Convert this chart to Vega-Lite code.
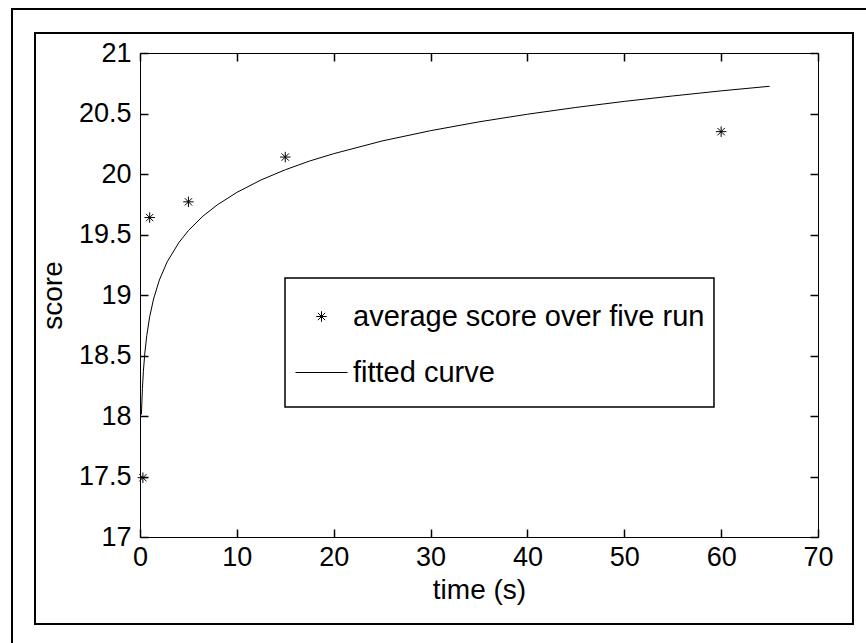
{
  "$schema": "https://vega.github.io/schema/vega-lite/v6.json",
  "width": 678,
  "height": 484,
  "autosize": {"type": "none"},
  "padding": {"left": 140, "top": 53, "right": 48, "bottom": 106},
  "background": "white",
  "datasets": {
    "points": [
      {"time": 0.3, "score": 17.49, "series": "average score over five run"},
      {"time": 1, "score": 19.64, "series": "average score over five run"},
      {"time": 5, "score": 19.77, "series": "average score over five run"},
      {"time": 15, "score": 20.14, "series": "average score over five run"},
      {"time": 60, "score": 20.35, "series": "average score over five run"}
    ],
    "curve": [
      {"time": 0.15, "score": 18.013},
      {"time": 0.17, "score": 18.065},
      {"time": 0.25, "score": 18.227},
      {"time": 0.35, "score": 18.369},
      {"time": 0.5, "score": 18.521},
      {"time": 0.7, "score": 18.665},
      {"time": 1, "score": 18.82},
      {"time": 1.4, "score": 18.967},
      {"time": 2, "score": 19.124},
      {"time": 2.8, "score": 19.273},
      {"time": 4, "score": 19.432},
      {"time": 5, "score": 19.533},
      {"time": 6.5, "score": 19.652},
      {"time": 8, "score": 19.746},
      {"time": 10, "score": 19.848},
      {"time": 12.5, "score": 19.951},
      {"time": 15, "score": 20.035},
      {"time": 17.5, "score": 20.107},
      {"time": 20, "score": 20.168},
      {"time": 25, "score": 20.273},
      {"time": 30, "score": 20.358},
      {"time": 35, "score": 20.431},
      {"time": 40, "score": 20.494},
      {"time": 45, "score": 20.55},
      {"time": 50, "score": 20.6},
      {"time": 55, "score": 20.645},
      {"time": 60, "score": 20.687},
      {"time": 65, "score": 20.725}
    ],
    "one": [{}]
  },
  "layer": [
    {
      "data": {"name": "one"},
      "mark": {"type": "rect", "fill": null, "stroke": "black", "strokeWidth": 2},
      "encoding": {
        "x": {"datum": -13.215, "type": "quantitative", "scale": {"domain": [0, 70], "nice": false, "zero": false}, "axis": null},
        "x2": {"datum": 80},
        "y": {"datum": 21.364, "type": "quantitative", "scale": {"domain": [17, 21], "nice": false, "zero": false}, "axis": null},
        "y2": {"datum": 15}
      }
    },
    {
      "data": {"name": "one"},
      "mark": {"type": "rect", "fill": null, "stroke": "black", "strokeWidth": 2},
      "encoding": {
        "x": {"datum": -10.84, "type": "quantitative",
              "axis": {"orient": "bottom", "offset": -484, "labels": false, "domain": true, "ticks": true, "tickSize": 8, "tickColor": "#000000", "tickWidth": 1.5, "title": null, "values": [0, 10, 20, 30, 40, 50, 60, 70]}},
        "x2": {"datum": 73.61},
        "y": {"datum": 21.165, "type": "quantitative",
              "axis": {"orient": "left", "offset": -678, "labels": false, "domain": true, "ticks": true, "tickSize": 8, "tickColor": "#000000", "tickWidth": 1.5, "title": null, "values": [17, 17.5, 18, 18.5, 19, 19.5, 20, 20.5, 21]}},
        "y2": {"datum": 16.281}
      }
    },
    {
      "data": {"name": "one"},
      "mark": {"type": "rect", "fill": "white", "stroke": "black", "strokeWidth": 1.5},
      "encoding": {
        "x": {"datum": 14.97, "type": "quantitative", "axis": null},
        "x2": {"datum": 59.26},
        "y": {"datum": 19.14, "type": "quantitative", "axis": null},
        "y2": {"datum": 18.074}
      }
    },
    {
      "data": {"name": "curve"},
      "mark": {"type": "line", "color": "black", "strokeWidth": 1},
      "encoding": {
        "x": {"field": "time", "type": "quantitative",
              "axis": {"orient": "bottom", "offset": -8, "labels": false, "domain": false, "ticks": true, "tickSize": 8, "tickColor": "#000000", "tickWidth": 1.5, "title": null, "values": [0, 10, 20, 30, 40, 50, 60, 70]}},
        "y": {"field": "score", "type": "quantitative",
              "axis": {"orient": "left", "offset": -8, "labels": false, "domain": false, "ticks": true, "tickSize": 8, "tickColor": "#000000", "tickWidth": 1.5, "title": null, "values": [17, 17.5, 18, 18.5, 19, 19.5, 20, 20.5, 21]}}
      }
    },
    {
      "data": {"name": "points"},
      "mark": {"type": "point", "filled": false, "stroke": "black", "strokeWidth": 1, "opacity": 1},
      "encoding": {
        "x": {"field": "time", "type": "quantitative",
              "axis": {"orient": "bottom", "title": "time (s)", "domain": true, "ticks": false, "tickSize": 0, "labelPadding": 7, "values": [0, 10, 20, 30, 40, 50, 60, 70]}},
        "y": {"field": "score", "type": "quantitative",
              "axis": {"orient": "left", "title": "score", "domain": true, "ticks": false, "tickSize": 0, "labelPadding": 9, "titlePadding": 11, "values": [17, 17.5, 18, 18.5, 19, 19.5, 20, 20.5, 21], "format": ".1~f"}},
        "shape": {"field": "series", "type": "nominal",
                  "scale": {"domain": ["average score over five run", "fitted curve"],
                            "range": ["M0,-1L0,1M-1,0L1,0M-0.7,-0.7L0.7,0.7M-0.7,0.7L0.7,-0.7", "stroke"]},
                  "legend": {"orient": "none", "legendX": 155, "legendY": 249, "title": null}},
        "size": {"field": "series", "type": "nominal",
                 "scale": {"domain": ["average score over five run", "fitted curve"], "range": [110, 2704]},
                 "legend": {"orient": "none", "legendX": 155, "legendY": 249, "title": null}}
      }
    }
  ],
  "resolve": {"axis": {"x": "independent", "y": "independent"}},
  "config": {
    "view": {"stroke": null},
    "font": "Liberation Sans",
    "axis": {
      "grid": false,
      "domainColor": "black",
      "domainWidth": 1,
      "labelColor": "black",
      "labelFont": "Liberation Sans",
      "labelFontSize": 27,
      "labelFlush": false,
      "labelOverlap": false,
      "titleFont": "Liberation Sans",
      "titleFontSize": 28,
      "titleFontWeight": "normal",
      "titleColor": "black",
      "titlePadding": 6
    },
    "legend": {
      "strokeColor": null,
      "fillColor": null,
      "padding": 0,
      "labelFont": "Liberation Sans",
      "labelFontSize": 29,
      "labelColor": "black",
      "labelOffset": 5,
      "labelLimit": 0,
      "symbolStrokeColor": "black",
      "symbolStrokeWidth": 1,
      "symbolFillColor": "transparent",
      "rowPadding": 14
    }
  }
}
